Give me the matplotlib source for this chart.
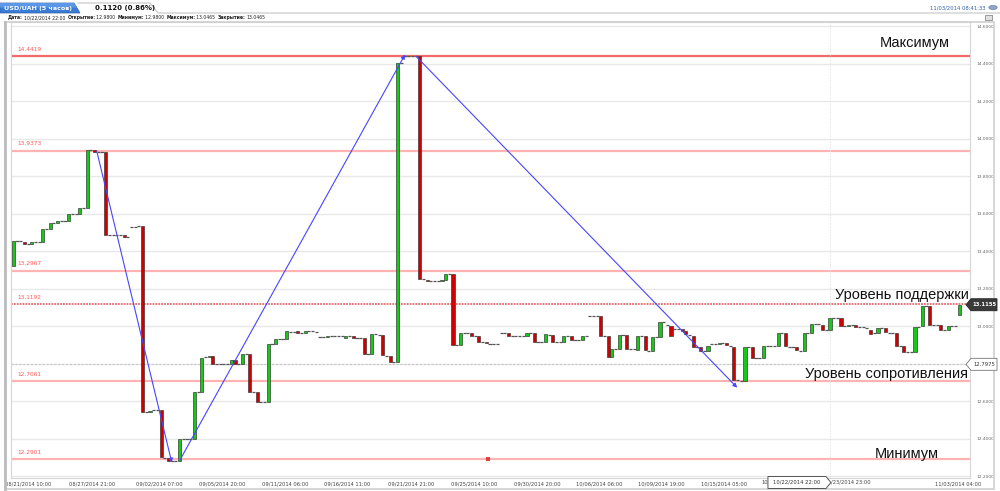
import numpy as np
import matplotlib
matplotlib.use("Agg")
import matplotlib.pyplot as plt
from matplotlib.patches import Polygon, Rectangle, Circle

# ---------------- data ----------------
opens = [
    13.320, 13.453, 13.453, 13.450, 13.439, 13.439, 13.448, 13.448, 13.448, 13.519,   # 0-9
    13.519, 13.553, 13.553, 13.560, 13.562, 13.562, 13.601, 13.601, 13.601, 13.630,   # 10-19
    13.630, 13.941, 13.941, 13.932, 13.932, 13.930, 13.489, 13.489, 13.489, 13.488,   # 20-29
    13.488, 13.476, 13.530, 13.530, 13.533, 13.533, 12.545, 12.545, 12.552, 12.552,   # 30-39
    12.552, 12.298, 12.298, 12.283, 12.283, 12.283, 12.399, 12.399, 12.399, 12.399,   # 40-49
    12.652, 12.652, 12.837, 12.837, 12.842, 12.800, 12.800, 12.800, 12.800, 12.800,   # 50-59
    12.818, 12.800, 12.800, 12.851, 12.851, 12.648, 12.648, 12.599, 12.599, 12.599,   # 60-69
    12.905, 12.905, 12.933, 12.933, 12.933, 12.972, 12.972, 12.974, 12.965, 12.965,   # 70-79
    12.973, 12.973, 12.972, 12.941, 12.941, 12.941, 12.947, 12.947, 12.947, 12.946,   # 80-89
    12.937, 12.949, 12.949, 12.940, 12.940, 12.940, 12.851, 12.851, 12.958, 12.956,   # 90-99
    12.955, 12.844, 12.844, 12.809, 12.809, 14.406, 14.442, 14.442, 14.442, 14.442,   # 100-109
    14.442, 13.252, 13.248, 13.240, 13.240, 13.240, 13.240, 13.245, 13.281, 13.281,   # 110-119
    12.901, 12.901, 12.964, 12.964, 12.964, 12.951, 12.946, 12.915, 12.915, 12.907,   # 120-129
    12.905, 12.905, 12.964, 12.964, 12.964, 12.950, 12.950, 12.950, 12.950, 12.949,   # 130-139
    12.966, 12.966, 12.915, 12.917, 12.915, 12.955, 12.955, 12.915, 12.915, 12.915,   # 140-149
    12.946, 12.946, 12.926, 12.926, 12.928, 12.949, 13.058, 13.058, 13.055, 13.053,   # 150-159
    12.951, 12.949, 12.839, 12.878, 12.878, 12.955, 12.955, 12.878, 12.878, 12.874,   # 160-169
    12.946, 12.946, 12.871, 12.869, 12.942, 12.942, 13.022, 13.010, 13.004, 12.985,   # 170-179
    12.985, 12.987, 12.974, 12.955, 12.950, 12.890, 12.889, 12.866, 12.866, 12.905,   # 180-189
    12.907, 12.905, 12.910, 12.910, 12.896, 12.892, 12.712, 12.711, 12.711, 12.889,   # 190-199
    12.889, 12.832, 12.832, 12.830, 12.896, 12.896, 12.896, 12.896, 12.962, 12.962,   # 200-209
    12.889, 12.889, 12.889, 12.871, 12.871, 12.967, 12.967, 13.012, 13.012, 13.008,   # 210-219
    12.978, 12.980, 13.044, 13.044, 13.044, 13.003, 13.003, 13.006, 13.008, 12.998,   # 220-229
    12.994, 12.990, 12.981, 12.962, 12.964, 12.990, 12.990, 12.967, 12.967, 12.964,   # 230-239
    12.896, 12.896, 12.862, 12.862, 12.862, 12.996, 13.003, 13.110, 13.110, 13.008,   # 240-249
    13.008, 13.008, 12.978, 12.978, 13.003, 13.003, 13.061,                           # 250-256
]
closes = [
    13.453, 13.453, 13.453, 13.439, 13.439, 13.448, 13.448, 13.448, 13.519, 13.519,
    13.551, 13.553, 13.560, 13.560, 13.562, 13.601, 13.601, 13.601, 13.630, 13.630,
    13.941, 13.941, 13.932, 13.932, 13.932, 13.489, 13.489, 13.489, 13.489, 13.488,
    13.478, 13.476, 13.530, 13.530, 13.533, 12.545, 12.545, 12.551, 12.552, 12.552,
    12.301, 12.298, 12.283, 12.283, 12.283, 12.399, 12.399, 12.399, 12.399, 12.648,
    12.652, 12.830, 12.837, 12.842, 12.800, 12.800, 12.800, 12.800, 12.800, 12.818,
    12.800, 12.800, 12.851, 12.851, 12.648, 12.648, 12.599, 12.599, 12.599, 12.905,
    12.905, 12.933, 12.933, 12.933, 12.973, 12.972, 12.972, 12.965, 12.965, 12.973,
    12.973, 12.973, 12.972, 12.941, 12.941, 12.950, 12.947, 12.947, 12.947, 12.946,
    12.949, 12.949, 12.939, 12.940, 12.940, 12.851, 12.851, 12.958, 12.958, 12.956,
    12.848, 12.844, 12.809, 12.809, 14.406, 14.406, 14.442, 14.442, 14.442, 14.442,
    13.252, 13.252, 13.240, 13.240, 13.240, 13.240, 13.245, 13.281, 13.281, 12.901,
    12.901, 12.964, 12.964, 12.964, 12.951, 12.951, 12.915, 12.915, 12.910, 12.907,
    12.905, 12.905, 12.964, 12.964, 12.951, 12.950, 12.950, 12.950, 12.950, 12.966,
    12.966, 12.915, 12.915, 12.917, 12.958, 12.955, 12.919, 12.915, 12.915, 12.946,
    12.946, 12.928, 12.926, 12.926, 12.949, 12.949, 13.058, 13.058, 13.055, 12.951,
    12.951, 12.839, 12.878, 12.878, 12.955, 12.955, 12.878, 12.878, 12.878, 12.946,
    12.946, 12.874, 12.871, 12.942, 12.942, 13.022, 13.022, 13.010, 12.946, 12.985,
    12.985, 12.976, 12.957, 12.955, 12.892, 12.890, 12.866, 12.866, 12.896, 12.905,
    12.907, 12.910, 12.910, 12.898, 12.896, 12.714, 12.712, 12.711, 12.889, 12.889,
    12.830, 12.832, 12.832, 12.896, 12.896, 12.896, 12.896, 12.962, 12.962, 12.896,
    12.889, 12.889, 12.874, 12.871, 12.967, 12.967, 13.012, 13.012, 13.012, 12.978,
    12.978, 13.0465, 13.044, 13.044, 13.003, 13.003, 13.008, 13.006, 12.999, 12.998,
    12.994, 12.990, 12.960, 12.962, 12.990, 12.990, 12.972, 12.967, 12.967, 12.896,
    12.896, 12.862, 12.862, 12.862, 12.996, 12.996, 13.110, 13.110, 13.008, 13.008,
    13.008, 12.978, 12.978, 13.003, 13.003, 13.003, 13.1155,
]

# date labels (the two around the cursor box are only partly visible)
tick_pos = [4.1, 21.3, 39.4, 56.5, 73.5, 90.3, 107.6, 124.7, 141.7, 158.5,
            175.3, 192.3, 255.7]
tick_labels = ["08/21/2014 10:00", "08/27/2014 21:00", "09/02/2014 07:00",
               "09/05/2014 20:00", "09/11/2014 06:00", "09/16/2014 11:00",
               "09/21/2014 21:00", "09/25/2014 10:00", "09/30/2014 20:00",
               "10/06/2014 06:00", "10/09/2014 19:00", "10/15/2014 05:00",
               "11/03/2014 04:00"]
partial_labels = ["10/", "/23/2014 23:00"]

levels = [14.4419, 13.9373, 13.2967, 13.1192, 12.7061, 12.2901]
level_labels = ["14.4419", "13.9373", "13.2967", "13.1192", "12.7061", "12.2901"]

trend_x0 = [22.6, 45.1, 109.0]
trend_y0 = [13.934, 12.287, 14.441]
trend_x1 = [42.9, 106.0, 195.9]
trend_y1 = [12.273, 14.450, 12.673]

note_text = ["Максимум", "Уровень поддержки", "Уровень сопротивления", "Минимум"]
note_x = [234.6, 222.4, 214.3, 233.2]
note_y = [14.492, 13.146, 12.726, 12.297]

event_x = [128.5]
event_y = [12.29]

last_price = 13.1155
cursor_price = 12.7975
cursor_idx = 221
cursor_label = "10/22/2014 22:00"
y_ticks = [12.2, 12.4, 12.6, 12.8, 13.0, 13.2, 13.4, 13.6, 13.8, 14.0, 14.2, 14.4, 14.6]

# ---------------- figure ----------------
W, H = 1000, 491
fig = plt.figure(figsize=(W / 100, H / 100), dpi=100)
fig.patch.set_facecolor("white")

def fp(x, y):
    return (x / W, 1 - y / H)

L, R, T, B = 11, 970, 22, 478
ax = fig.add_axes([L / W, 1 - B / H, (R - L) / W, (B - T) / H])
ax.set_xlim(-0.62, 258.9)
ax.set_ylim(12.191, 14.624)
ax.set_facecolor("white")
for s in ax.spines.values():
    s.set_color("#d6d6d6")
    s.set_linewidth(0.8)

# grid
for yt in y_ticks:
    ax.axhline(yt, color="#e8e8e8", lw=1.0, zorder=0)

# level lines
lev_colors = ["#f26a6a", "#ffb3b3", "#ffb3b3", "#e87878", "#ffb3b3", "#ffb3b3"]
for i, (lv, lb) in enumerate(zip(levels, level_labels)):
    if i == 3:
        ax.axhline(lv, color="#e06a6a", lw=1.3, ls=(0, (1, 0.6)), zorder=1)
    else:
        ax.axhline(lv, color=lev_colors[i], lw=1.6, zorder=1)
    ax.annotate(lb, (1.0, lv), xytext=(0, 3.2), textcoords="offset points",
                fontsize=4.2, color="#ff5a5a", va="bottom", ha="left",
                family="DejaVu Sans")

# crosshair
ax.axhline(cursor_price, color="#c8c8c8", lw=0.8, ls=(0, (2, 1.5)), zorder=1)
ax.axvline(cursor_idx, color="#e4e4e4", lw=0.6, ls=(0, (2, 1.5)), zorder=1)

# candles
x = np.arange(len(opens))
o = np.array(opens)
c = np.array(closes)
up = c > o
dn = c < o
fl = c == o
ax.bar(x[up], (c - o)[up], bottom=o[up], width=0.85, color="#18c818",
       edgecolor="#2e2e2e", linewidth=0.45, zorder=3)
ax.bar(x[dn], (o - c)[dn], bottom=c[dn], width=0.85, color="#d00000",
       edgecolor="#2e2e2e", linewidth=0.45, zorder=3)
ax.hlines(c[fl], x[fl] - 0.42, x[fl] + 0.42, color="#555555", lw=0.9, zorder=3)

# event marker
ax.scatter(event_x, event_y, marker="s", s=5, color="#e04040", zorder=4, linewidths=0)

# trend arrows
for xa, ya, xb, yb in zip(trend_x0, trend_y0, trend_x1, trend_y1):
    ax.annotate("", xy=(xb, yb), xytext=(xa, ya),
                arrowprops=dict(arrowstyle="-|>", color="#4646ff", lw=0.8,
                                mutation_scale=6, shrinkA=0, shrinkB=0), zorder=5)

# notes
for t, xn, yn in zip(note_text, note_x, note_y):
    ax.text(xn, yn, t, fontsize=10.5, family="Liberation Sans", color="#111111",
            ha="left", va="baseline", zorder=6)

# ticks
ax.yaxis.tick_right()
ax.set_yticks(y_ticks)
ax.set_yticklabels(["" if abs(v - cursor_price) < 0.05 else f"{v:.4f}" for v in y_ticks])
ax.tick_params(axis="y", length=0, pad=5, labelsize=3.2, labelcolor="#666666")
ax.set_xticks(tick_pos)
ax.set_xticklabels(tick_labels)
ax.tick_params(axis="x", length=0, pad=2.5, labelsize=3.7, labelcolor="#444444")
for lbl in ax.get_xticklabels() + ax.get_yticklabels():
    lbl.set_family("DejaVu Sans")

# --- right side labels ---
def ypix(price):
    return H - ax.transData.transform((0, price))[1]

def xpix(idx):
    return ax.transData.transform((idx, 0))[0]

yl = ypix(last_price)
poly = Polygon([fp(966, yl), fp(971, yl - 6), fp(997, yl - 6), fp(997, yl + 6),
                fp(971, yl + 6)], closed=True, transform=fig.transFigure,
               facecolor="#3a3a3a", edgecolor="#222222", lw=0.6, zorder=10)
fig.add_artist(poly)
fig.text(*fp(984, yl), f"{last_price:.4f}", color="white", fontsize=3.8,
         ha="center", va="center", weight="bold", family="DejaVu Sans", zorder=11)

yc = ypix(cursor_price)
poly = Polygon([fp(966, yc), fp(971, yc - 6), fp(997, yc - 6), fp(997, yc + 6),
                fp(971, yc + 6)], closed=True, transform=fig.transFigure,
               facecolor="white", edgecolor="#777777", lw=0.6, zorder=10)
fig.add_artist(poly)
fig.text(*fp(984, yc), f"{cursor_price:.4f}", color="#333333", fontsize=3.8,
         ha="center", va="center", family="DejaVu Sans", zorder=11)

# --- bottom cursor label ---
xc = xpix(cursor_idx)
label_y = 483
poly = Polygon([fp(xc - 62, 476.5), fp(xc - 4, 476.5), fp(xc + 1, 482.5),
                fp(xc - 4, 488.5), fp(xc - 62, 488.5)], closed=True,
               transform=fig.transFigure, facecolor="white", edgecolor="#555555",
               lw=0.7, zorder=10)
fig.add_artist(poly)
fig.text(*fp(xc - 33, 482.5), cursor_label, color="#333333", fontsize=3.8,
         ha="center", va="center", family="DejaVu Sans", zorder=11)
fig.text(*fp(xc - 68.5, 482.5), partial_labels[0], color="#444444", fontsize=3.7,
         ha="left", va="center", family="DejaVu Sans")
fig.text(*fp(xc + 1.5, 482.5), partial_labels[1], color="#444444", fontsize=3.7,
         ha="left", va="center", family="DejaVu Sans")

# --- frames ---
fig.add_artist(Rectangle(fp(5, 489), 989 / W, 467 / H, transform=fig.transFigure,
                         fill=False, edgecolor="#cfcfcf", lw=1.2, zorder=1))
fig.add_artist(plt.Line2D([5 / W, 5 / W], [1 - 22 / H, 1 - 489 / H],
                          transform=fig.transFigure, color="#bdbdbd", lw=2.0))

# --- header ---
fig.add_artist(Polygon([fp(0, 3), fp(74, 3), fp(80, 13), fp(0, 13)], closed=True,
                       transform=fig.transFigure, facecolor="#3a7bd5",
                       edgecolor="#2a5fa8", lw=0.5))
fig.add_artist(Polygon([fp(0, 3), fp(74, 3), fp(77, 7.5), fp(0, 7.5)], closed=True,
                       transform=fig.transFigure, facecolor="#5b97e6",
                       edgecolor="none", lw=0))
fig.text(*fp(4, 8.2), "USD/UAH (5 часов)", color="white", fontsize=4.6,
         weight="bold", ha="left", va="center", family="DejaVu Sans")
fig.add_artist(plt.Line2D([78 / W, 150 / W, 158 / W, 1.0],
                          [1 - 3 / H, 1 - 3 / H, 1 - 13 / H, 1 - 13 / H],
                          transform=fig.transFigure, color="#c4c4c4", lw=0.8))
fig.text(*fp(95, 8.2), "0.1120 (0.86%)", color="#111111", fontsize=5,
         weight="bold", ha="left", va="center", family="DejaVu Sans")
fig.text(*fp(986, 7.5), "11/03/2014 08:41:33", color="#2f5fb0", fontsize=3.8,
         ha="right", va="center", family="DejaVu Sans")
fig.add_artist(Circle(fp(993, 7.5), 4.2 / W, transform=fig.transFigure,
                      facecolor="#8fa6c8", edgecolor="#6a84ad", lw=0.5))
fig.add_artist(Rectangle(fp(985, 20), 7 / W, 5 / H, transform=fig.transFigure,
                         facecolor="#e0e0e0", edgecolor="#777777", lw=0.5))

info = [("Дата:", "bold"), ("10/22/2014 22:00 ", "normal"),
        ("Открытие:", "bold"), ("12.9800 ", "normal"),
        ("Минимум:", "bold"), ("12.9800 ", "normal"),
        ("Максимум:", "bold"), ("13.0465 ", "normal"),
        ("Закрытие:", "bold"), ("13.0465", "normal")]
renderer = fig.canvas.get_renderer()
xcur = 8
for txt, wt in info:
    t = fig.text(*fp(xcur, 17.5), txt, fontsize=3.3, weight=wt, color="#222222",
                 ha="left", va="center", family="DejaVu Sans")
    xcur += t.get_window_extent(renderer).width + 0.8

fig.savefig("out.png", dpi=100, facecolor="white")
